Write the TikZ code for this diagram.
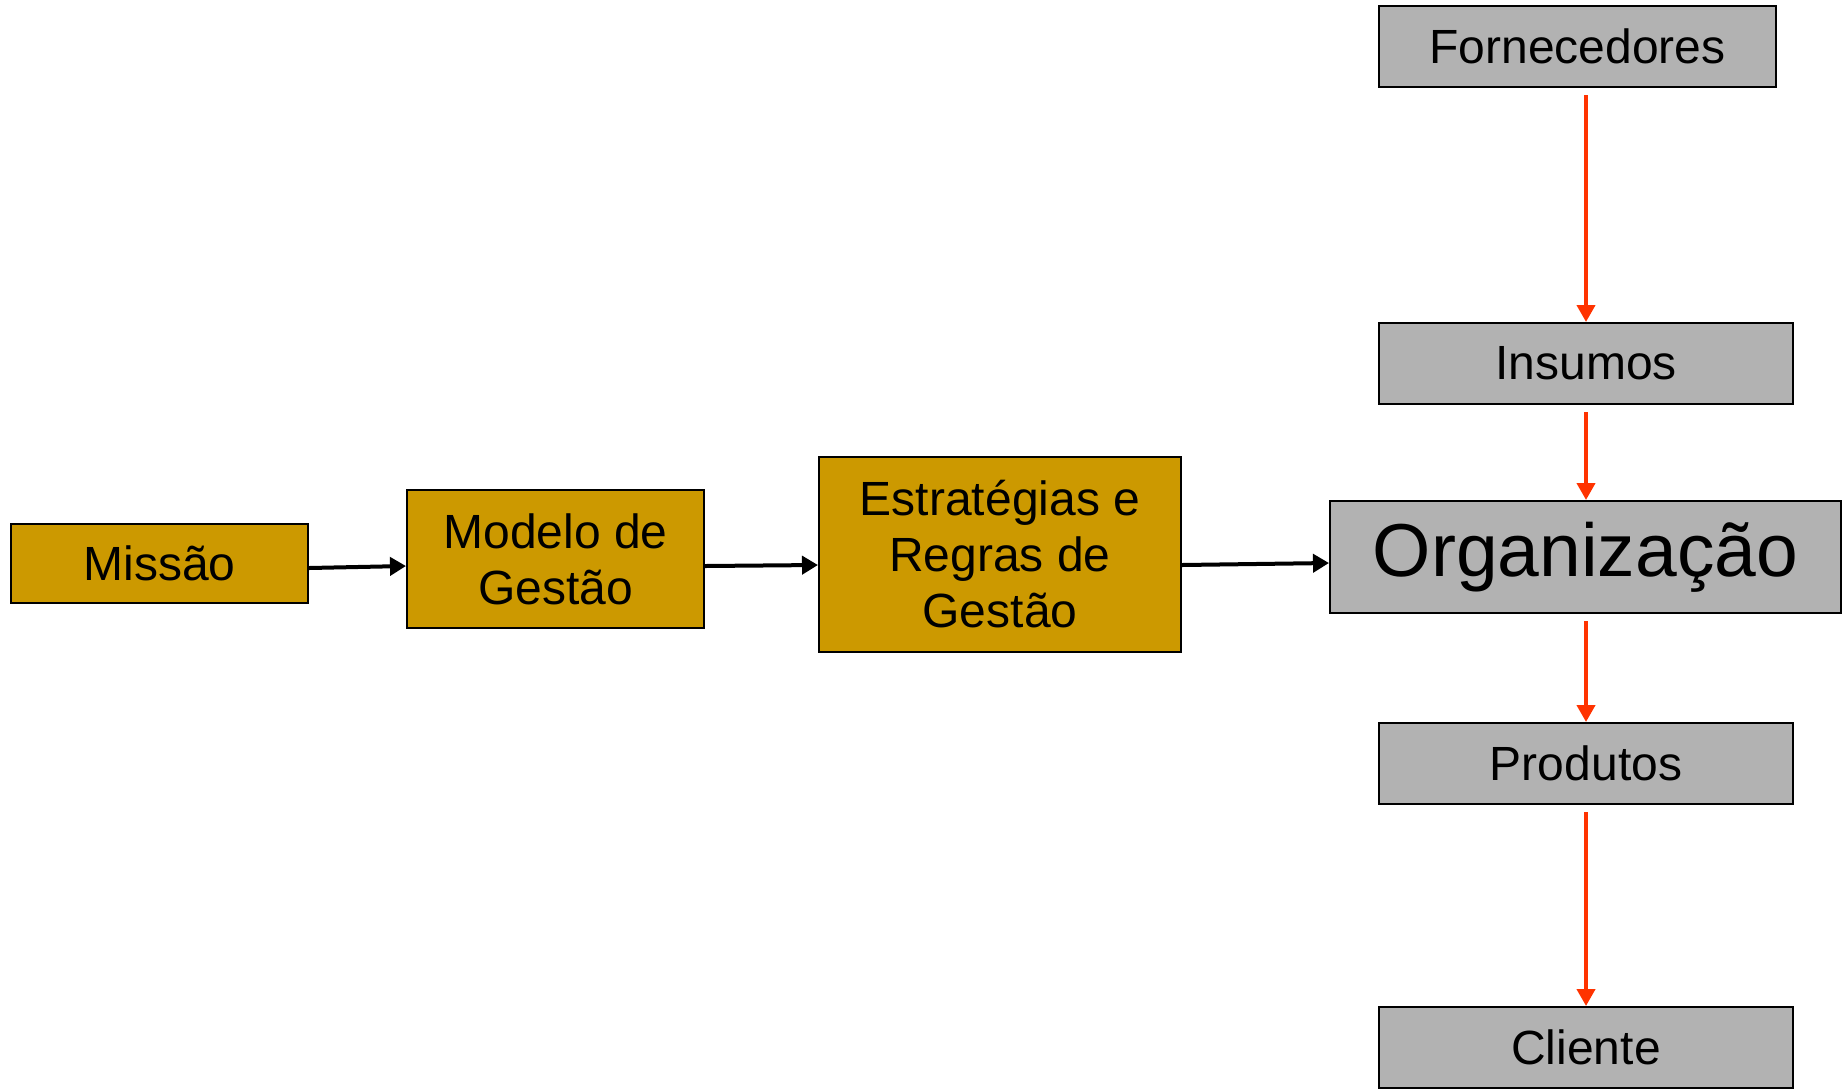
\documentclass[tikz,border=0pt]{standalone}
\usepackage{fontspec}
\setmainfont{Liberation Sans}
\usepackage{tikz}
\usetikzlibrary{arrows.meta}
\usepackage{xcolor}
\definecolor{ouro}{HTML}{CC9900}
\definecolor{cinza}{HTML}{B2B2B2}
\definecolor{vermelho}{HTML}{FF3300}

\begin{document}
\begin{tikzpicture}[x=0.5pt,y=-0.5pt,
  caixa/.style={draw=black,line width=1pt,inner sep=0pt,align=center,font=\fontsize{24}{28}\selectfont},
  dourado/.style={caixa,fill=ouro},
  cinzento/.style={caixa,fill=cinza},
  preta/.style={->,line width=2pt,>={Triangle[length=8pt,width=9pt]}},
  vermelha/.style={->,vermelho,line width=2pt,shorten <=3.5pt,>={Triangle[length=8.5pt,width=9pt]}}]
 \useasboundingbox (0,0) rectangle (1845,1088);

 \node[dourado,minimum width=148.5pt,minimum height=39.5pt] (missao) at (159.5,563.5) {Missão};
 \node[dourado,minimum width=148.5pt,minimum height=69pt] (modelo) at (555.5,559) {Modelo de\\Gestão};
 \node[dourado,minimum width=181pt,minimum height=97.5pt] (estrategias) at (1000,554.5) {Estratégias e\\Regras de\\Gestão};
 \node[cinzento,minimum width=255.5pt,minimum height=56pt,font=\fontsize{37.5}{45}\selectfont] (org) at (1585.5,557) {Organização};

 \node[cinzento,minimum width=198.5pt,minimum height=40.5pt] (fornecedores) at (1577.5,46.5) {Fornecedores};
 \node[cinzento,minimum width=207pt,minimum height=40.5pt] (insumos) at (1586,363.5) {Insumos};
 \node[cinzento,minimum width=207pt,minimum height=40.5pt] (produtos) at (1586,763.5) {Produtos};
 \node[cinzento,minimum width=207pt,minimum height=40.5pt] (cliente) at (1586,1047.5) {Cliente};

 % setas pretas quase horizontais
 \draw[preta] (missao.east |- 0,568) -- (modelo.west |- 0,566);
 \draw[preta] (modelo.east |- 0,566) -- (estrategias.west |- 0,565);
 \draw[preta] (estrategias.east |- 0,565) -- (org.west |- 0,563);

 \draw[vermelha] (insumos.north |- fornecedores.south) -- (insumos.north);
 \draw[vermelha] (insumos.south) -- (org.north -| insumos.south);
 \draw[vermelha] (org.south -| produtos.north) -- (produtos.north);
 \draw[vermelha] (produtos.south) -- (cliente.north);
\end{tikzpicture}
\end{document}
